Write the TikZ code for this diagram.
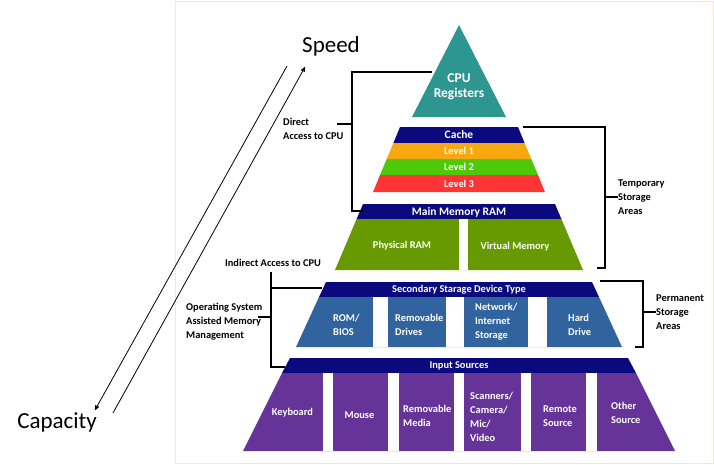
\documentclass[tikz,border=0pt]{standalone}
\usepackage{fontspec}
\setmainfont{Carlito}
\usetikzlibrary{arrows,positioning,calc}
\definecolor{cputeal}{HTML}{2E9690}
\definecolor{bandnavy}{HTML}{0A0A7E}
\definecolor{lvlorange}{HTML}{F7A70F}
\definecolor{lvlgreen}{HTML}{4EC80B}
\definecolor{lvlred}{HTML}{FF3535}
\definecolor{ramgreen}{HTML}{669A00}
\definecolor{storeblue}{HTML}{31649F}
\definecolor{inpurple}{HTML}{663399}
\definecolor{frameyellow}{HTML}{FFFF33}
\tikzset{
  >=stealth',
  boxlabel/.style={
    text=white,
    font=\bfseries\fontsize{10.4}{14}\selectfont,
    align=left,
    inner sep=0pt
  },
  leftlabel/.style={boxlabel, anchor=west},
  bandlabel/.style={boxlabel, align=center, font=\bfseries\fontsize{11.5}{15}\selectfont},
  sidelabel/.style={
    font=\bfseries\fontsize{10.4}{14}\selectfont,
    align=left,
    inner sep=0pt,
    anchor=west
  },
  bracket/.style={draw, line width=1.4pt},
  axislabel/.style={font=\fontsize{23}{26}\selectfont, inner sep=0pt},
  axis/.style={draw, line width=0.8pt, ->},
  gap/.style={fill=white},
}
\begin{document}
\begin{tikzpicture}[x=1pt, y=-1pt]
  \useasboundingbox (0,0) rectangle (714,464);
  \draw[frameyellow, line width=0.8pt] (175.5,1) rectangle (713,463);

  % pyramid
  \fill[cputeal] (459,25) -- (506,117) -- (412,117) -- cycle;
  \fill[bandnavy] (400,127) -- (518,127) -- (524.6,143) -- (393.4,143) -- cycle;
  \fill[lvlorange] (393.4,143) -- (524.6,143) -- (531.3,159) -- (386.7,159) -- cycle;
  \fill[lvlgreen] (386.7,159) -- (531.3,159) -- (538,175) -- (380,175) -- cycle;
  \fill[lvlred] (380,175) -- (538,175) -- (545,192) -- (373,192) -- cycle;
  \fill[bandnavy] (363,204) -- (555,204) -- (561.4,219) -- (356.6,219) -- cycle;
  \fill[ramgreen] (356.6,219) -- (561.4,219) -- (583,270) -- (335,270) -- cycle;
  \fill[gap] (459,219) rectangle (468,270);
  \fill[bandnavy] (326,282) -- (592,282) -- (599,297) -- (319,297) -- cycle;
  \fill[storeblue] (319,297) -- (599,297) -- (622,347) -- (296,347) -- cycle;
  \foreach \a/\b in {373/388, 446/464, 528/547}
    \fill[gap] (\a,297) rectangle (\b,347);
  \fill[bandnavy] (290,358) -- (628,358) -- (636,373) -- (282,373) -- cycle;
  \fill[inpurple] (282,373) -- (636,373) -- (675,451) -- (243,451) -- cycle;
  \foreach \a/\b in {323/333, 388/399, 454/464, 521/531, 586/597}
    \fill[gap] (\a,373) rectangle (\b,451);

  % labels in the pyramid
  \node[bandlabel, font=\bfseries\fontsize{13.5}{15}\selectfont] (cpu) at (459,87) {CPU\\Registers};
  \node[bandlabel] (cache) at (459,135) {Cache};
  \node[boxlabel] (lvl1) at (459,151) {Level 1};
  \node[boxlabel] (lvl2) at (459,167) {Level 2};
  \node[boxlabel] (lvl3) at (459,183.5) {Level 3};
  \node[bandlabel] (mainram) at (459,212) {Main Memory RAM};
  \node[boxlabel] (physram) at (402,246) {Physical RAM};
  \node[boxlabel] (virtmem) at (515,247) {Virtual Memory};
  \node[boxlabel] (secband) at (459,290) {Secondary Starage Device Type};
  \node[leftlabel] (rombios) at (333,325) {ROM/\\BIOS};
  \node[leftlabel] (remdrives) at (395,325) {Removable\\Drives};
  \node[leftlabel] (netstore) at (475,322) {Network/\\Internet\\Storage};
  \node[leftlabel] (harddrive) at (568,325) {Hard\\Drive};
  \node[boxlabel] (inband) at (459,366) {Input Sources};
  \node[boxlabel] (keyboard) at (292.5,413) {Keyboard};
  \node[boxlabel] (mouse) at (359.5,415) {Mouse};
  \node[leftlabel] (remmedia) at (403,416) {Removable\\Media};
  \node[leftlabel] (scanners) at (470,417) {Scanners/\\Camera/\\Mic/\\Video};
  \node[leftlabel] (remote) at (543,416) {Remote\\Source};
  \node[leftlabel] (other) at (611,413) {Other\\Source};

  % side labels
  \node[sidelabel] (direct) at (283,129) {Direct\\Access to CPU};
  \node[sidelabel] (temporary) at (618,197) {Temporary\\Storage\\Areas};
  \node[sidelabel] (permanent) at (656,312) {Permanent\\Storage\\Areas};
  \node[sidelabel, anchor=center] (indirect) at (273,263) {Indirect Access to CPU};
  \node[sidelabel] (opsys) at (186,322) {Operating System\\Assisted Memory\\Management};

  % brackets
  \coordinate (dtop) at (432,72);
  \coordinate (dbot) at (363,211);
  \draw[bracket] (dtop) -- ++(-80,0) |- (dbot);
  \draw[bracket] (352,124) -- ++(-15,0);
  \coordinate (ttop) at (523,127);
  \coordinate (tbot) at (597,268);
  \draw[bracket] (ttop) -- ++(82,0) |- (tbot);
  \draw[bracket] (605,197) -- (temporary.west);
  \coordinate (ptop) at (600,281);
  \coordinate (pbot) at (635,347);
  \draw[bracket] (ptop) -- ++(43,0) |- (pbot);
  \draw[bracket] (643,312) -- (permanent.west);
  \coordinate (itop) at (271,272);
  \coordinate (ibot) at (285,367);
  \coordinate (isec) at (322,288);
  \draw[bracket] (itop) |- (ibot);
  \draw[bracket] (itop |- isec) -- (isec);
  \draw[bracket] (271,317) -- ++(-13,0);

  % speed and capacity
  \node[axislabel] (speed) at (331,46) {Speed};
  \node[axislabel] (capacity) at (57,422) {Capacity};
  \coordinate (down1) at (287,66);
  \coordinate (down2) at (95,410);
  \coordinate (up1) at (113,413);
  \coordinate (up2) at (305,67);
  \draw[axis] (down1) -- (down2);
  \draw[axis] (up1) -- (up2);
\end{tikzpicture}
\end{document}
